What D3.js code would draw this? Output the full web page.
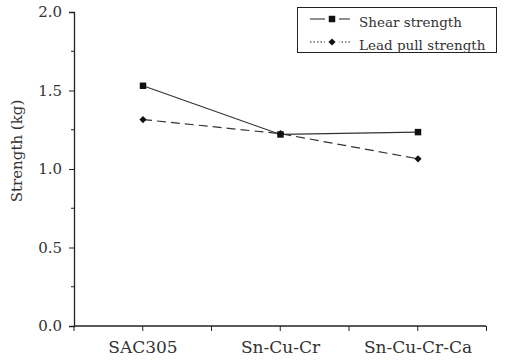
<!DOCTYPE html>
<html>
<head>
<meta charset="utf-8">
<script src="https://cdn.jsdelivr.net/npm/d3@7"></script>
<style>
  body { margin: 0; background: #fff; }
  text { font-family: "DejaVu Serif", "Liberation Serif", serif; fill: #333; }
</style>
</head>
<body>
<div id="visualization"></div>
<script>
// 数据
const categories = ["SAC305", "Sn-Cu-Cr", "Sn-Cu-Cr-Ca"];
const shearValues = [1.53, 1.22, 1.235];
const leadPullValues = [1.315, 1.225, 1.065];
const yTicks = [0.0, 0.5, 1.0, 1.5, 2.0];
const seriesNames = ["Shear strength", "Lead pull strength"];

const width = 507;
const height = 360;
const margin = { top: 12, right: 21, bottom: 34, left: 74 };

d3.select("#visualization").selectAll("*").remove();

const svg = d3.select("#visualization")
  .append("svg")
  .attr("width", width)
  .attr("height", height);

// 比例尺
const x = d3.scalePoint()
  .domain(categories)
  .range([143, 418]);

const y = d3.scaleLinear()
  .domain([0, 2])
  .range([height - margin.bottom, margin.top]);

// 坐标轴
const xAxis = svg.append("g")
  .attr("transform", `translate(0,${y(0)})`);
xAxis.append("line")
  .attr("x1", margin.left).attr("x2", width - margin.right)
  .attr("stroke", "#222").attr("stroke-width", 1.3);
const step = x.step() / 2;
const xTickPos = d3.range(margin.left, width - margin.right + 1, step);
xAxis.selectAll("line.tick")
  .data(xTickPos)
  .join("line")
  .attr("class", "tick")
  .attr("x1", d => d).attr("x2", d => d)
  .attr("y1", 0).attr("y2", 5)
  .attr("stroke", "#222");
xAxis.selectAll("text")
  .data(categories)
  .join("text")
  .attr("x", d => x(d))
  .attr("y", 27)
  .attr("text-anchor", "middle")
  .style("font-size", "17px")
  .text(d => d);

const yAxis = svg.append("g")
  .attr("transform", `translate(${margin.left},0)`)
  .call(d3.axisLeft(y).tickValues(yTicks).tickFormat(d3.format(".1f")).tickSize(5).tickPadding(7));
yAxis.select(".domain").attr("stroke", "#222").attr("stroke-width", 1.3);
yAxis.selectAll(".tick line").attr("stroke", "#222");
yAxis.selectAll(".tick text")
  .style("font-size", "15px")
  .style("font-family", "'DejaVu Serif', serif")
  .attr("fill", "#555");
yAxis.selectAll("line.minor")
  .data([0.25, 0.75, 1.25, 1.75])
  .join("line")
  .attr("class", "minor")
  .attr("x1", -3).attr("x2", 0)
  .attr("y1", d => y(d)).attr("y2", d => y(d))
  .attr("stroke", "#222");

svg.append("text")
  .attr("transform", "translate(22,151) rotate(-90)")
  .attr("text-anchor", "middle")
  .style("font-size", "15px")
  .text("Strength (kg)");

// 线条
const line = d3.line()
  .x((d, i) => x(categories[i]))
  .y(d => y(d));

svg.append("path")
  .datum(shearValues)
  .attr("fill", "none")
  .attr("stroke", "#333")
  .attr("stroke-width", 1.2)
  .attr("d", line);

svg.append("path")
  .datum(leadPullValues)
  .attr("fill", "none")
  .attr("stroke", "#333")
  .attr("stroke-width", 1.2)
  .attr("stroke-dasharray", "9,5")
  .attr("d", line);

const square = d3.symbol().type(d3.symbolSquare).size(42);
const diamond = d3.symbol().type(d3.symbolSquare).size(26);

svg.selectAll("path.sq")
  .data(shearValues)
  .join("path")
  .attr("class", "sq")
  .attr("transform", (d, i) => `translate(${x(categories[i])},${y(d)})`)
  .attr("d", square)
  .attr("fill", "#111");

svg.selectAll("path.dm")
  .data(leadPullValues)
  .join("path")
  .attr("class", "dm")
  .attr("transform", (d, i) => `translate(${x(categories[i])},${y(d)}) rotate(45)`)
  .attr("d", diamond)
  .attr("fill", "#111");

// 图例
const legend = svg.append("g");
legend.append("rect")
  .attr("x", 297.5).attr("y", 7.5)
  .attr("width", 199).attr("height", 45)
  .attr("fill", "#fff").attr("stroke", "#222");

const rows = [
  { name: seriesNames[0], dash: null, sym: square, rot: 0, y: 19 },
  { name: seriesNames[1], dash: "1.5,2", sym: diamond, rot: 45, y: 42 }
];
rows.forEach(r => {
  legend.append("line")
    .attr("x1", 310).attr("x2", 350)
    .attr("y1", r.y).attr("y2", r.y)
    .attr("stroke", "#222")
    .attr("stroke-width", 1.2)
    .attr("stroke-dasharray", r.dash);
  legend.append("rect")
    .attr("x", 325).attr("y", r.y - 4)
    .attr("width", 14).attr("height", 8)
    .attr("fill", "#fff");
  legend.append("path")
    .attr("transform", `translate(332,${r.y}) rotate(${r.rot})`)
    .attr("d", r.sym)
    .attr("fill", "#111");
  legend.append("text")
    .attr("x", 359).attr("y", r.y + 8)
    .style("font-size", "13.5px")
    .text(r.name);
});
</script>
</body>
</html>
